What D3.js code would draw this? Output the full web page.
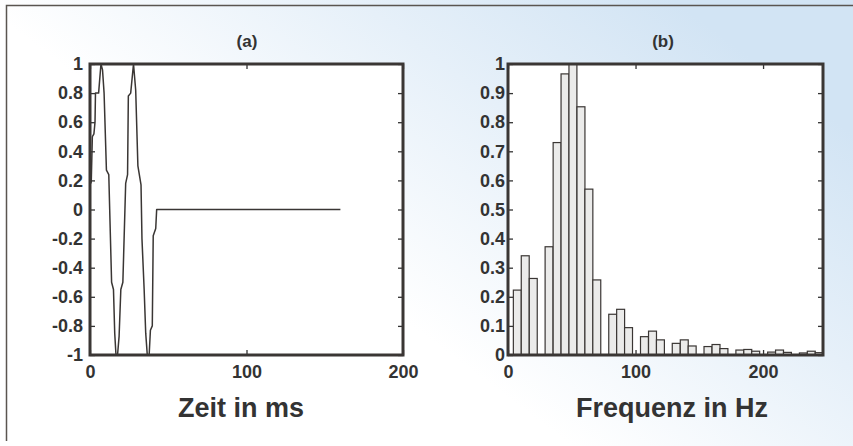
<!DOCTYPE html>
<html>
<head>
<meta charset="utf-8">
<script src="https://cdn.jsdelivr.net/npm/d3@7"></script>
<style>
  body { margin: 0; background: #fff; }
  text { font-family: "Liberation Sans", Arial, Helvetica, sans-serif; fill: #333; }
</style>
</head>
<body>
<svg id="chart"></svg>
<script>
/* -------- time signal (a) and spectrum (b) -------- */

// (a) signal: time in ms, amplitude
let timeMs = [0, 0.8, 1.5, 2.5, 3.2, 3.5, 5.5, 7, 8, 9, 10.5, 12, 13.8, 15, 15.8, 16.6, 17.6,
    18.6, 19.7, 21, 22.8, 24, 24.5, 26, 27.8, 29.2, 30.6, 32.6, 33.2, 34.6, 35.6, 36.6, 37.8,
    38.6, 39.8, 40.4, 42, 42.6, 160];
let amplitude = [0.17, 0.19, 0.5, 0.52, 0.6, 0.8, 0.8, 1.0, 0.96, 0.8, 0.27, 0.24, -0.5, -0.55, -0.85, -1.0, -1.0,
    -0.87, -0.55, -0.5, 0.18, 0.24, 0.78, 0.8, 1.0, 0.82, 0.3, 0.17, -0.2, -0.55, -0.85, -1.0, -1.0,
    -0.83, -0.8, -0.18, -0.13, 0, 0];

// (b) spectrum: bin start in Hz, magnitude
let binStartHz = [4.2, 10.4, 16.7, 22.9, 29.1, 35.4, 41.6, 47.8, 54.1, 60.3, 66.5, 72.7, 79.0,
    85.2, 91.4, 97.7, 103.9, 110.2, 116.4, 122.6, 128.8, 135.1, 141.3, 147.5, 153.7, 160.0,
    166.2, 172.4, 178.7, 184.9, 191.1, 197.3, 203.6, 209.8, 216.0, 222.2, 228.5, 234.7, 240.9];
let magnitude = [0.223, 0.341, 0.263, 0, 0.372, 0.73, 0.966, 1.0, 0.853, 0.57, 0.258, 0, 0.14,
    0.157, 0.094, 0, 0.063, 0.082, 0.052, 0, 0.04, 0.052, 0.031, 0, 0.029, 0.036,
    0.022, 0, 0.017, 0.019, 0.013, 0, 0.01, 0.017, 0.009, 0, 0.007, 0.013, 0.008];
let binWidthHz = 6.23;

let yTicksA = [-1, -0.8, -0.6, -0.4, -0.2, 0, 0.2, 0.4, 0.6, 0.8, 1];
let xTicksA = [0, 100, 200];
let yTicksB = [0, 0.1, 0.2, 0.3, 0.4, 0.5, 0.6, 0.7, 0.8, 0.9, 1];
let xTicksB = [0, 100, 200];

let width = 853;
let height = 446;

let svg = d3.select("#chart")
    .attr("width", width)
    .attr("height", height);

// light blue paper background on the right
let defs = svg.append("defs");
let grad = defs.append("linearGradient")
    .attr("id", "paper")
    .attr("x1", 0).attr("y1", 1).attr("x2", 1).attr("y2", 0.3);
grad.append("stop").attr("offset", "0.45").attr("stop-color", "#ffffff");
grad.append("stop").attr("offset", "0.75").attr("stop-color", "#e6f0f9");
grad.append("stop").attr("offset", "1").attr("stop-color", "#d2e4f4");

svg.append("rect")
    .attr("width", width).attr("height", height)
    .attr("fill", "url(#paper)");

// outer frame (top + left edges visible)
svg.append("path")
    .attr("d", `M6.5,441 L6.5,5.5 L${width},5.5`)
    .attr("fill", "none")
    .attr("stroke", "#5a5550")
    .attr("stroke-width", 1.5);

function panel(opts) {
    let g = svg.append("g").attr("transform", `translate(${opts.left}, ${opts.top})`);
    let w = opts.w, h = opts.h;

    g.append("rect")
        .attr("width", w).attr("height", h)
        .attr("fill", "#fff");

    let x = d3.scaleLinear().domain(opts.xDomain).range([0, w]);
    let y = d3.scaleLinear().domain(opts.yDomain).range([h, 0]);

    opts.draw(g, x, y);

    // inward ticks on all four sides
    let fmt = d => String(d);
    g.append("g").attr("class", "axis")
        .call(d3.axisLeft(y).tickValues(opts.yTicks).tickSize(-5).tickSizeOuter(0)
            .tickPadding(opts.yPad).tickFormat(fmt));
    g.append("g").attr("class", "axis").attr("transform", `translate(${w}, 0)`)
        .call(d3.axisRight(y).tickValues(opts.yTicks).tickSize(-5).tickSizeOuter(0).tickFormat(""));
    g.append("g").attr("class", "axis").attr("transform", `translate(0, ${h})`)
        .call(d3.axisBottom(x).tickValues(opts.xTicks).tickSize(-5).tickSizeOuter(0)
            .tickPadding(10).tickFormat(fmt));
    g.append("g").attr("class", "axis")
        .call(d3.axisTop(x).tickValues(opts.xTicks).tickSize(-5).tickSizeOuter(0).tickFormat(""));

    g.selectAll(".axis .domain").remove();
    g.selectAll(".axis line").attr("stroke", "#333").attr("stroke-width", 1.3);
    g.selectAll(".axis text")
        .attr("font-size", "18px")
        .attr("font-weight", "bold")
        .attr("fill", "#3a3a3a");

    // frame
    g.append("rect")
        .attr("width", w).attr("height", h)
        .attr("fill", "none")
        .attr("stroke", "#3a3634")
        .attr("stroke-width", 3);

    g.append("text")
        .attr("x", opts.titleX).attr("y", -17)
        .attr("text-anchor", "middle")
        .attr("font-size", "17px")
        .attr("font-weight", "bold")
        .text(opts.title);

    g.append("text")
        .attr("x", opts.labelX).attr("y", h + 62)
        .attr("text-anchor", "middle")
        .attr("font-size", "27px")
        .attr("font-weight", "bold")
        .attr("fill", "#3a3a3a")
        .text(opts.label);
}

panel({
    left: 90, top: 64, w: 313, h: 291,
    xDomain: [0, 200], yDomain: [-1, 1],
    xTicks: xTicksA, yTicks: yTicksA, yPad: 7,
    title: "(a)", titleX: 157, label: "Zeit in ms", labelX: 151,
    draw: function (g, x, y) {
        let pts = timeMs.map((t, i) => [t, amplitude[i]]);
        g.append("path")
            .datum(pts)
            .attr("fill", "none")
            .attr("stroke", "#3a3634")
            .attr("stroke-width", 1.5)
            .attr("stroke-linejoin", "round")
            .attr("d", d3.line().x(d => x(d[0])).y(d => y(d[1])));
    }
});

panel({
    left: 508, top: 64, w: 315, h: 291,
    xDomain: [0, 247], yDomain: [0, 1],
    xTicks: xTicksB, yTicks: yTicksB, yPad: 3,
    title: "(b)", titleX: 155, label: "Frequenz in Hz", labelX: 164,
    draw: function (g, x, y) {
        let bins = binStartHz.map((f, i) => ({ f: f, v: magnitude[i] })).filter(d => d.v > 0);
        g.selectAll("rect.bar").data(bins)
            .join("rect")
            .attr("class", "bar")
            .attr("x", d => x(d.f))
            .attr("width", d => x(d.f + binWidthHz) - x(d.f))
            .attr("y", d => y(d.v))
            .attr("height", d => y(0) - y(d.v))
            .attr("fill", "#ebebea")
            .attr("stroke", "#3a3634")
            .attr("stroke-width", 1.2);
    }
});
</script>
</body>
</html>
